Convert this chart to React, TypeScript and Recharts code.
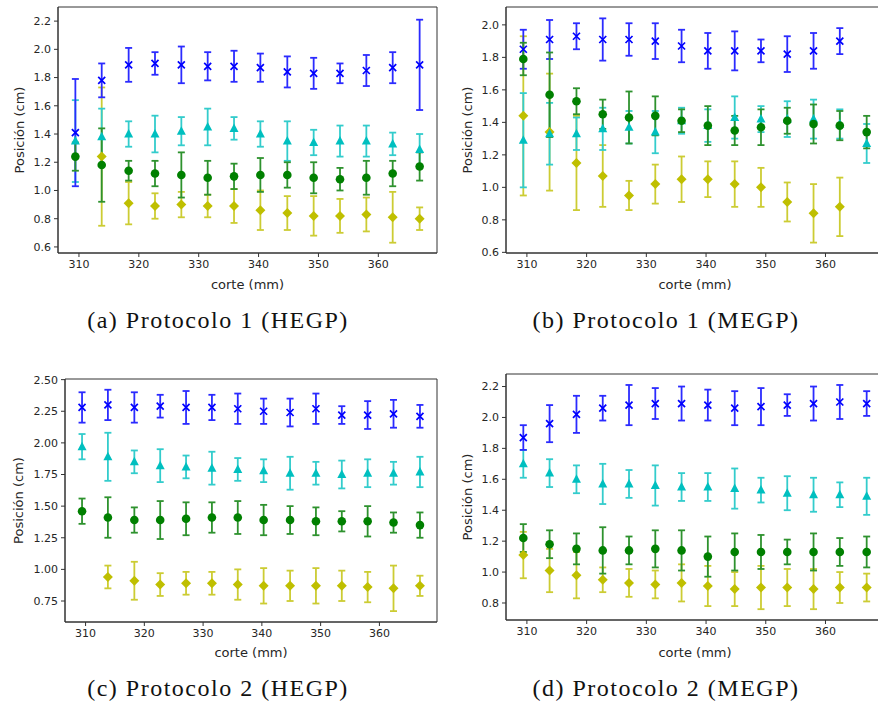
import React from "react";
import { ScatterChart, Scatter, XAxis, YAxis, ErrorBar, ReferenceArea } from "recharts";

// slice positions (mm)
const corte = [309.4, 313.8, 318.3, 322.7, 327.1, 331.5, 335.9, 340.3, 344.8, 349.2, 353.6, 358.0, 362.4, 366.9];
const xTicks = [310, 320, 330, 340, 350, 360];

// (a) Protocolo 1 (HEGP)
const p1hBlue = [1.41, 1.78, 1.89, 1.9, 1.89, 1.88, 1.88, 1.87, 1.84, 1.83, 1.83, 1.85, 1.87, 1.89];
const p1hBlueErr = [0.38, 0.12, 0.12, 0.08, 0.13, 0.1, 0.11, 0.1, 0.11, 0.11, 0.07, 0.11, 0.11, 0.32];
const p1hCyan = [1.35, 1.38, 1.4, 1.4, 1.42, 1.45, 1.44, 1.4, 1.35, 1.34, 1.35, 1.35, 1.33, 1.29];
const p1hCyanErr = [0.29, 0.2, 0.09, 0.13, 0.1, 0.13, 0.08, 0.09, 0.14, 0.09, 0.11, 0.11, 0.08, 0.11];
const p1hGreen = [1.24, 1.18, 1.14, 1.12, 1.11, 1.09, 1.1, 1.11, 1.11, 1.09, 1.08, 1.09, 1.12, 1.17];
const p1hGreenErr = [0.1, 0.26, 0.07, 0.09, 0.16, 0.12, 0.09, 0.12, 0.09, 0.11, 0.08, 0.12, 0.09, 0.1];
const p1hYellow = [null, 1.24, 0.91, 0.89, 0.9, 0.89, 0.89, 0.86, 0.84, 0.82, 0.82, 0.83, 0.81, 0.8];
const p1hYellowErr = [null, 0.49, 0.15, 0.09, 0.09, 0.08, 0.12, 0.14, 0.12, 0.14, 0.12, 0.12, 0.18, 0.08];

// (b) Protocolo 1 (MEGP)
const p1mBlue = [1.85, 1.91, 1.93, 1.91, 1.91, 1.9, 1.87, 1.84, 1.84, 1.84, 1.82, 1.84, 1.9, null];
const p1mBlueErr = [0.12, 0.12, 0.08, 0.13, 0.1, 0.11, 0.1, 0.11, 0.12, 0.07, 0.11, 0.11, 0.08, null];
const p1mCyan = [1.29, 1.33, 1.33, 1.36, 1.37, 1.34, 1.41, 1.38, 1.43, 1.42, 1.42, 1.42, 1.39, 1.27];
const p1mCyanErr = [0.29, 0.19, 0.1, 0.13, 0.1, 0.13, 0.08, 0.1, 0.13, 0.08, 0.11, 0.12, 0.09, 0.12];
const p1mGreen = [1.79, 1.57, 1.53, 1.45, 1.43, 1.44, 1.41, 1.38, 1.35, 1.37, 1.41, 1.39, 1.38, 1.34];
const p1mGreenErr = [0.1, 0.26, 0.08, 0.09, 0.16, 0.12, 0.07, 0.12, 0.09, 0.11, 0.08, 0.12, 0.09, 0.1];
const p1mYellow = [1.44, 1.34, 1.15, 1.07, 0.95, 1.02, 1.05, 1.05, 1.02, 1.0, 0.91, 0.84, 0.88, null];
const p1mYellowErr = [0.49, 0.36, 0.29, 0.19, 0.09, 0.12, 0.14, 0.11, 0.14, 0.12, 0.12, 0.18, 0.18, null];

// (c) Protocolo 2 (HEGP)
const p2hBlue = [2.28, 2.3, 2.28, 2.29, 2.28, 2.28, 2.27, 2.25, 2.24, 2.27, 2.22, 2.22, 2.23, 2.21];
const p2hBlueErr = [0.12, 0.12, 0.12, 0.09, 0.13, 0.1, 0.12, 0.1, 0.11, 0.12, 0.07, 0.11, 0.11, 0.09];
const p2hCyan = [1.97, 1.89, 1.85, 1.82, 1.81, 1.8, 1.79, 1.78, 1.76, 1.76, 1.75, 1.76, 1.76, 1.77];
const p2hCyanErr = [0.1, 0.19, 0.09, 0.13, 0.09, 0.13, 0.09, 0.09, 0.13, 0.09, 0.11, 0.11, 0.09, 0.12];
const p2hGreen = [1.46, 1.41, 1.39, 1.39, 1.4, 1.41, 1.41, 1.39, 1.39, 1.38, 1.38, 1.38, 1.37, 1.35];
const p2hGreenErr = [0.1, 0.16, 0.1, 0.15, 0.13, 0.12, 0.13, 0.12, 0.11, 0.11, 0.08, 0.12, 0.08, 0.1];
const p2hYellow = [null, 0.94, 0.91, 0.88, 0.89, 0.89, 0.88, 0.87, 0.87, 0.87, 0.87, 0.86, 0.85, 0.87];
const p2hYellowErr = [null, 0.09, 0.15, 0.09, 0.09, 0.09, 0.12, 0.14, 0.12, 0.14, 0.12, 0.12, 0.18, 0.08];

// (d) Protocolo 2 (MEGP)
const p2mBlue = [1.87, 1.96, 2.02, 2.06, 2.08, 2.09, 2.09, 2.08, 2.06, 2.07, 2.08, 2.09, 2.1, 2.09];
const p2mBlueErr = [0.08, 0.12, 0.12, 0.08, 0.13, 0.1, 0.11, 0.1, 0.11, 0.12, 0.07, 0.11, 0.11, 0.08];
const p2mCyan = [1.7, 1.64, 1.6, 1.57, 1.57, 1.56, 1.55, 1.55, 1.54, 1.53, 1.51, 1.5, 1.5, 1.49];
const p2mCyanErr = [0.09, 0.09, 0.09, 0.13, 0.09, 0.13, 0.09, 0.09, 0.13, 0.08, 0.11, 0.11, 0.08, 0.12];
const p2mGreen = [1.22, 1.18, 1.15, 1.14, 1.14, 1.15, 1.14, 1.1, 1.13, 1.13, 1.13, 1.13, 1.13, 1.13];
const p2mGreenErr = [0.09, 0.09, 0.1, 0.15, 0.09, 0.12, 0.13, 0.13, 0.12, 0.11, 0.08, 0.12, 0.09, 0.1];
const p2mYellow = [1.11, 1.01, 0.98, 0.95, 0.93, 0.92, 0.93, 0.91, 0.89, 0.9, 0.9, 0.89, 0.9, 0.9];
const p2mYellowErr = [0.15, 0.14, 0.15, 0.08, 0.09, 0.09, 0.12, 0.13, 0.11, 0.14, 0.12, 0.13, 0.1, 0.09];

const rows = (vals: (number | null)[], errs: (number | null)[]) =>
  corte
    .map((x, i) => ({ x, y: vals[i], e: errs[i] }))
    .filter((d) => d.y != null);

const XMark = (p: any) => (
  <path
    d={`M${p.cx - 3.5},${p.cy - 3.5}L${p.cx + 3.5},${p.cy + 3.5}M${p.cx - 3.5},${p.cy + 3.5}L${p.cx + 3.5},${p.cy - 3.5}`}
    stroke="#0000ff"
    strokeWidth={1.7}
    fill="none"
  />
);
const TriMark = (p: any) => (
  <path d={`M${p.cx},${p.cy - 5}L${p.cx + 4.5},${p.cy + 3.5}L${p.cx - 4.5},${p.cy + 3.5}Z`} fill="#00bfbf" />
);
const DotMark = (p: any) => <circle cx={p.cx} cy={p.cy} r={4.3} fill="#008000" />;
const DiaMark = (p: any) => (
  <path d={`M${p.cx},${p.cy - 5}L${p.cx + 5},${p.cy}L${p.cx},${p.cy + 5}L${p.cx - 5},${p.cy}Z`} fill="#bfbf00" />
);

const tickStyle = { fill: "#262626", fontSize: 11, fontFamily: "DejaVu Sans" };
const labelStyle = { fill: "#262626", fontSize: 13, fontFamily: "DejaVu Sans" };

function Panel(props: any) {
  const { left, top, width, height, margin, yWidth, xHeight, yDomain, yTicks, digits, s, xOff, yOff } = props;
  const xDomain = [306.5, 369.8];
  return (
    <div style={{ position: "absolute", left, top }}>
      <ScatterChart width={width} height={height} margin={margin}>
        <XAxis
          type="number"
          dataKey="x"
          domain={xDomain}
          ticks={xTicks}
          interval={0}
          allowDataOverflow
          height={xHeight}
          stroke="#333"
          tickSize={4}
          tickMargin={3}
          tick={tickStyle}
          label={{ value: "corte (mm)", position: "insideBottom", offset: xOff, style: labelStyle }}
        />
        <YAxis
          type="number"
          dataKey="y"
          domain={yDomain}
          ticks={yTicks}
          interval={0}
          allowDataOverflow
          width={yWidth}
          stroke="#333"
          tickSize={4}
          tickMargin={3}
          tick={tickStyle}
          tickFormatter={(v: number) => v.toFixed(digits)}
          label={{
            value: "Posición (cm)",
            angle: -90,
            position: "insideLeft",
            offset: yOff,
            style: { ...labelStyle, textAnchor: "middle" },
          }}
        />
        <Scatter data={s.yellow} shape={DiaMark} isAnimationActive={false}>
          <ErrorBar dataKey="e" direction="y" width={3.5} stroke="#cccc33" strokeWidth={1.8} />
        </Scatter>
        <Scatter data={s.cyan} shape={TriMark} isAnimationActive={false}>
          <ErrorBar dataKey="e" direction="y" width={3.5} stroke="#33cccc" strokeWidth={1.8} />
        </Scatter>
        <Scatter data={s.blue} shape={XMark} isAnimationActive={false}>
          <ErrorBar dataKey="e" direction="y" width={3.5} stroke="#2b2bff" strokeWidth={1.8} />
        </Scatter>
        <Scatter data={s.green} shape={DotMark} isAnimationActive={false}>
          <ErrorBar dataKey="e" direction="y" width={3.5} stroke="#2e922e" strokeWidth={1.8} />
        </Scatter>
        <ReferenceArea
          x1={xDomain[0]}
          x2={xDomain[1]}
          y1={yDomain[0]}
          y2={yDomain[1]}
          fill="none"
          stroke="#333"
          strokeWidth={1}
          ifOverflow="visible"
        />
      </ScatterChart>
    </div>
  );
}

const captionStyle = (left: number, top: number): React.CSSProperties => ({
  position: "absolute",
  left,
  top,
  width: 300,
  textAlign: "center",
  fontFamily: "Liberation Serif",
  fontSize: 24,
  letterSpacing: 1.5,
  color: "#111",
  whiteSpace: "nowrap",
});

export default function App() {
  const a = {
    blue: rows(p1hBlue, p1hBlueErr),
    cyan: rows(p1hCyan, p1hCyanErr),
    green: rows(p1hGreen, p1hGreenErr),
    yellow: rows(p1hYellow, p1hYellowErr),
  };
  const b = {
    blue: rows(p1mBlue, p1mBlueErr),
    cyan: rows(p1mCyan, p1mCyanErr),
    green: rows(p1mGreen, p1mGreenErr),
    yellow: rows(p1mYellow, p1mYellowErr),
  };
  const c = {
    blue: rows(p2hBlue, p2hBlueErr),
    cyan: rows(p2hCyan, p2hCyanErr),
    green: rows(p2hGreen, p2hGreenErr),
    yellow: rows(p2hYellow, p2hYellowErr),
  };
  const d = {
    blue: rows(p2mBlue, p2mBlueErr),
    cyan: rows(p2mCyan, p2mCyanErr),
    green: rows(p2mGreen, p2mGreenErr),
    yellow: rows(p2mYellow, p2mYellowErr),
  };

  return (
    <div
      style={{
        position: "fixed",
        left: 0,
        top: 0,
        width: 878,
        height: 708,
        background: "#fff",
        overflow: "hidden",
      }}
    >
      <Panel
        left={0}
        top={0}
        width={440}
        height={300}
        margin={{ top: 7, right: 3, left: 0, bottom: 0 }}
        yWidth={58}
        xHeight={47}
        yDomain={[0.557, 2.3]}
        yTicks={[0.6, 0.8, 1.0, 1.2, 1.4, 1.6, 1.8, 2.0, 2.2]}
        digits={1}
        s={a}
        xOff={11}
        yOff={19}
      />
      <Panel
        left={440}
        top={0}
        width={450}
        height={300}
        margin={{ top: 7, right: 6, left: 0, bottom: 0 }}
        yWidth={66}
        xHeight={47}
        yDomain={[0.596, 2.11]}
        yTicks={[0.6, 0.8, 1.0, 1.2, 1.4, 1.6, 1.8, 2.0]}
        digits={1}
        s={b}
        xOff={11}
        yOff={27}
      />
      <Panel
        left={0}
        top={360}
        width={440}
        height={310}
        margin={{ top: 19, right: 3, left: 0, bottom: 0 }}
        yWidth={65}
        xHeight={48}
        yDomain={[0.584, 2.505]}
        yTicks={[0.75, 1.0, 1.25, 1.5, 1.75, 2.0, 2.25, 2.5]}
        digits={2}
        s={c}
        xOff={13}
        yOff={18}
      />
      <Panel
        left={440}
        top={360}
        width={450}
        height={310}
        margin={{ top: 14, right: 6, left: 0, bottom: 0 }}
        yWidth={66}
        xHeight={50}
        yDomain={[0.69, 2.281]}
        yTicks={[0.8, 1.0, 1.2, 1.4, 1.6, 1.8, 2.0, 2.2]}
        digits={1}
        s={d}
        xOff={13}
        yOff={27}
      />
      <div style={captionStyle(68, 307)}>(a) Protocolo 1 (HEGP)</div>
      <div style={captionStyle(516, 307)}>(b) Protocolo 1 (MEGP)</div>
      <div style={captionStyle(68, 675)}>(c) Protocolo 2 (HEGP)</div>
      <div style={captionStyle(516, 675)}>(d) Protocolo 2 (MEGP)</div>
    </div>
  );
}
